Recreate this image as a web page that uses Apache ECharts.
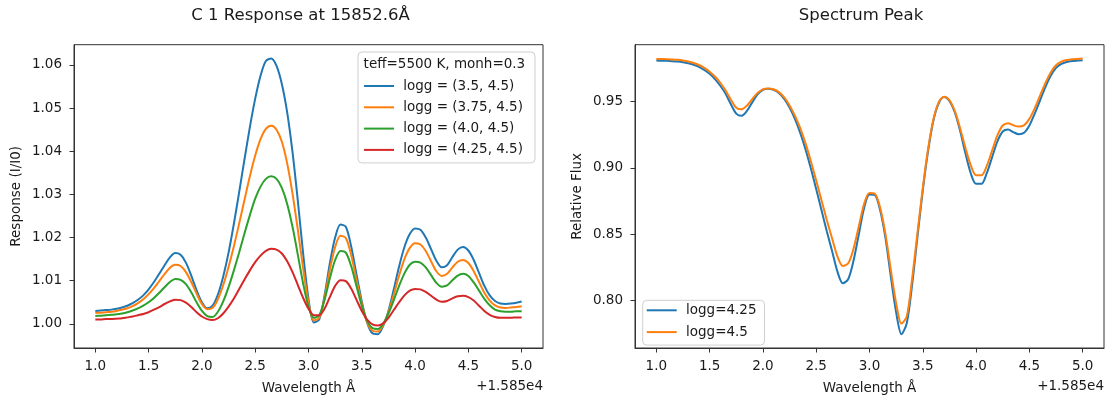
<!DOCTYPE html>
<html><head><meta charset="utf-8">
<script src="https://cdn.jsdelivr.net/npm/echarts@6/dist/echarts.min.js"></script>
<style>html,body{margin:0;padding:0;background:#fff}#c{width:1108px;height:400px}</style>
</head><body><div id="c"></div>
<script>
// Wavelength offsets (Å) relative to 1.585e4
const OFFSET_LABEL = '+1.585e4';
const X_TICKS = [1.0, 1.5, 2.0, 2.5, 3.0, 3.5, 4.0, 4.5, 5.0];
const RESP_Y_TICKS = [1.00, 1.01, 1.02, 1.03, 1.04, 1.05, 1.06];
const SPEC_Y_TICKS = [0.80, 0.85, 0.90, 0.95];

const RESP_TITLE = 'C 1 Response at 15852.6Å';
const SPEC_TITLE = 'Spectrum Peak';
const RESP_LEGEND_TITLE = 'teff=5500 K, monh=0.3';
const RESP_NAMES = ['logg = (3.5, 4.5)', 'logg = (3.75, 4.5)', 'logg = (4.0, 4.5)', 'logg = (4.25, 4.5)'];
const SPEC_NAMES = ['logg=4.25', 'logg=4.5'];

const WAVE = [1.00, 1.05, 1.10, 1.15, 1.20, 1.25, 1.30, 1.35, 1.40, 1.45,
  1.50, 1.55, 1.60, 1.65, 1.70, 1.75, 1.80, 1.85, 1.90, 1.95,
  2.00, 2.05, 2.10, 2.15, 2.20, 2.25, 2.30, 2.35, 2.40, 2.45,
  2.50, 2.55, 2.60, 2.65, 2.70, 2.75, 2.80, 2.85, 2.90, 2.95,
  3.00, 3.05, 3.10, 3.15, 3.20, 3.25, 3.30, 3.35, 3.40, 3.45,
  3.50, 3.55, 3.60, 3.65, 3.70, 3.75, 3.80, 3.85, 3.90, 3.95,
  4.00, 4.05, 4.10, 4.15, 4.20, 4.25, 4.30, 4.35, 4.40, 4.45,
  4.50, 4.55, 4.60, 4.65, 4.70, 4.75, 4.80, 4.85, 4.90, 4.95, 5.00];

const RESP_350 = [1.0030, 1.0031, 1.0032, 1.0033, 1.0035, 1.0038, 1.0042, 1.0048, 1.0056, 1.0066,
  1.0080, 1.0097, 1.0116, 1.0136, 1.0154, 1.0164, 1.0160, 1.0142, 1.0112, 1.0078,
  1.0050, 1.0036, 1.0042, 1.0068, 1.0110, 1.0165, 1.0232, 1.0306, 1.0382, 1.0456,
  1.0522, 1.0575, 1.0609, 1.0615, 1.0598, 1.0556, 1.0490, 1.0398, 1.0285, 1.0162,
  1.0058, 1.0003, 1.0010, 1.0065, 1.0140, 1.0200, 1.0230, 1.0225, 1.0180, 1.0115,
  1.0052, 1.0003, 0.9978, 0.9976, 0.9995, 1.0030, 1.0080, 1.0133, 1.0178, 1.0208,
  1.0221, 1.0218, 1.0200, 1.0173, 1.0146, 1.0131, 1.0136, 1.0155, 1.0172, 1.0178,
  1.0170, 1.0148, 1.0118, 1.0088, 1.0066, 1.0053, 1.0047, 1.0046, 1.0047, 1.0049, 1.0052];
const RESP_375 = [1.0025, 1.0026, 1.0027, 1.0028, 1.0030, 1.0033, 1.0036, 1.0041, 1.0048, 1.0057,
  1.0069, 1.0083, 1.0099, 1.0115, 1.0130, 1.0137, 1.0134, 1.0120, 1.0097, 1.0070,
  1.0046, 1.0034, 1.0037, 1.0057, 1.0090, 1.0132, 1.0180, 1.0233, 1.0288, 1.0342,
  1.0390, 1.0428, 1.0452, 1.0459, 1.0450, 1.0422, 1.0372, 1.0302, 1.0218, 1.0128,
  1.0050, 1.0008, 1.0014, 1.0060, 1.0125, 1.0178, 1.0204, 1.0199, 1.0160, 1.0102,
  1.0047, 1.0004, 0.9984, 0.9982, 0.9997, 1.0027, 1.0068, 1.0112, 1.0150, 1.0176,
  1.0187, 1.0184, 1.0169, 1.0145, 1.0122, 1.0111, 1.0116, 1.0131, 1.0144, 1.0148,
  1.0141, 1.0122, 1.0097, 1.0072, 1.0054, 1.0043, 1.0038, 1.0037, 1.0038, 1.0039, 1.0041];
const RESP_400 = [1.0018, 1.0019, 1.0020, 1.0021, 1.0022, 1.0024, 1.0027, 1.0031, 1.0036, 1.0042,
  1.0050, 1.0060, 1.0072, 1.0085, 1.0097, 1.0104, 1.0102, 1.0092, 1.0073, 1.0050,
  1.0030, 1.0018, 1.0016, 1.0028, 1.0052, 1.0085, 1.0124, 1.0166, 1.0210, 1.0252,
  1.0290, 1.0318, 1.0336, 1.0342, 1.0336, 1.0315, 1.0278, 1.0225, 1.0160, 1.0093,
  1.0040, 1.0014, 1.0020, 1.0055, 1.0105, 1.0148, 1.0169, 1.0165, 1.0134, 1.0088,
  1.0042, 1.0007, 0.9990, 0.9988, 1.0000, 1.0024, 1.0055, 1.0088, 1.0117, 1.0137,
  1.0144, 1.0142, 1.0131, 1.0113, 1.0095, 1.0086, 1.0089, 1.0101, 1.0112, 1.0116,
  1.0111, 1.0096, 1.0077, 1.0058, 1.0043, 1.0033, 1.0029, 1.0028, 1.0028, 1.0029, 1.0029];
const RESP_425 = [1.0010, 1.0010, 1.0011, 1.0011, 1.0012, 1.0013, 1.0015, 1.0017, 1.0020, 1.0023,
  1.0027, 1.0033, 1.0039, 1.0046, 1.0052, 1.0056, 1.0055, 1.0049, 1.0039, 1.0027,
  1.0017, 1.0011, 1.0009, 1.0013, 1.0024, 1.0040, 1.0059, 1.0081, 1.0103, 1.0124,
  1.0143, 1.0158, 1.0169, 1.0174, 1.0172, 1.0163, 1.0145, 1.0120, 1.0090, 1.0060,
  1.0035, 1.0020, 1.0020, 1.0035, 1.0062, 1.0088, 1.0101, 1.0099, 1.0082, 1.0056,
  1.0030, 1.0010, 0.9999, 0.9996, 1.0001, 1.0014, 1.0032, 1.0050, 1.0066, 1.0077,
  1.0081, 1.0080, 1.0074, 1.0065, 1.0056, 1.0051, 1.0053, 1.0059, 1.0064, 1.0065,
  1.0062, 1.0054, 1.0042, 1.0030, 1.0021, 1.0016, 1.0014, 1.0014, 1.0014, 1.0015, 1.0015];

const SPEC_425 = [0.9810, 0.9809, 0.9808, 0.9806, 0.9803, 0.9798, 0.9790, 0.9779, 0.9763, 0.9740,
  0.9710, 0.9670, 0.9620, 0.9560, 0.9480, 0.9410, 0.9393, 0.9430, 0.9495, 0.9555,
  0.9590, 0.9598, 0.9590, 0.9565, 0.9520, 0.9455, 0.9370, 0.9265, 0.9140, 0.8995,
  0.8840, 0.8680, 0.8520, 0.8370, 0.8215, 0.8130, 0.8160, 0.8300, 0.8500, 0.8700,
  0.8800, 0.8795, 0.8680, 0.8470, 0.8180, 0.7910, 0.7745, 0.7830, 0.8120, 0.8480,
  0.8830, 0.9130, 0.9360, 0.9490, 0.9535, 0.9505, 0.9420, 0.9280, 0.9110, 0.8960,
  0.8880, 0.8880, 0.8960, 0.9080, 0.9200, 0.9275, 0.9290, 0.9270, 0.9255, 0.9265,
  0.9320, 0.9410, 0.9510, 0.9610, 0.9695, 0.9755, 0.9785, 0.9800, 0.9807, 0.9810, 0.9812];
const SPEC_450 = [0.9823, 0.9822, 0.9821, 0.9819, 0.9816, 0.9811, 0.9803, 0.9792, 0.9777, 0.9755,
  0.9726, 0.9690, 0.9643, 0.9585, 0.9515, 0.9455, 0.9443, 0.9470, 0.9520, 0.9565,
  0.9593, 0.9600, 0.9594, 0.9572, 0.9532, 0.9472, 0.9395, 0.9300, 0.9185, 0.9050,
  0.8905, 0.8755, 0.8605, 0.8465, 0.8330, 0.8260, 0.8280, 0.8390, 0.8560, 0.8730,
  0.8810, 0.8805, 0.8700, 0.8500, 0.8230, 0.7980, 0.7825, 0.7880, 0.8165, 0.8510,
  0.8850, 0.9145, 0.9368, 0.9497, 0.9538, 0.9512, 0.9430, 0.9300, 0.9150, 0.9020,
  0.8945, 0.8945, 0.9015, 0.9130, 0.9245, 0.9320, 0.9337, 0.9322, 0.9312, 0.9322,
  0.9370, 0.9450, 0.9545, 0.9640, 0.9720, 0.9775, 0.9802, 0.9814, 0.9820, 0.9823, 0.9826];

const COLORS = ['#1f77b4', '#ff7f0e', '#2ca02c', '#d62728'];
const FONT = 'DejaVu Sans';
const TXT = '#1a1a1a';
const FS = 13.5;

function pairs(xs, ys) { return xs.map((x, i) => [x, ys[i]]); }
function padRange(arrs) {
  const all = [].concat(...arrs);
  const lo = Math.min(...all), hi = Math.max(...all), m = (hi - lo) * 0.05;
  return [lo - m, hi + m];
}
const respR = padRange([RESP_350, RESP_375, RESP_400, RESP_425]);
const specR = padRange([SPEC_425, SPEC_450]);

function xAxis(gi) {
  return {
    type: 'value', gridIndex: gi, min: 0.8, max: 5.2,
    axisLine: { show: true, lineStyle: { color: '#333', width: 1 } },
    axisTick: { show: true, length: 4.5, lineStyle: { color: '#333' }, customValues: X_TICKS },
    axisLabel: { customValues: X_TICKS, formatter: v => Number(v).toFixed(1), fontSize: FS, fontFamily: FONT, color: TXT, margin: 11 },
    splitLine: { show: false },
    name: 'Wavelength Å', nameLocation: 'middle', nameGap: 33,
    nameTextStyle: { fontSize: FS, fontFamily: FONT, color: TXT }
  };
}
function yAxis(gi, r, ticks, name) {
  return {
    type: 'value', gridIndex: gi, min: r[0], max: r[1],
    axisLine: { show: true, lineStyle: { color: '#333', width: 1 } },
    axisTick: { show: true, length: 4.5, lineStyle: { color: '#333' }, customValues: ticks },
    axisLabel: { customValues: ticks, formatter: v => Number(v).toFixed(2), fontSize: FS, fontFamily: FONT, color: TXT, margin: 12 },
    splitLine: { show: false },
    name: name, nameLocation: 'middle', nameGap: 51,
    nameTextStyle: { fontSize: FS, fontFamily: FONT, color: TXT }
  };
}
function line(name, gi, xs, ys, color) {
  return {
    type: 'line', name: name, xAxisIndex: gi, yAxisIndex: gi,
    data: pairs(xs, ys), symbol: 'none', showSymbol: false, smooth: 0.3,
    lineStyle: { color: color, width: 2 }, itemStyle: { color: color }
  };
}
const legendCommon = {
  orient: 'vertical', icon: 'rect', itemWidth: 30, itemHeight: 2,
  backgroundColor: 'rgba(255,255,255,0.8)', borderColor: '#cfcfcf', borderWidth: 1, borderRadius: 4,
  textStyle: { fontSize: FS, fontFamily: FONT, color: TXT, lineHeight: 14 },
  formatter: n => ' ' + n, selectedMode: false
};

const option = {
  animation: false,
  backgroundColor: '#fff',
  grid: [
    { left: 74, top: 44.7, width: 469, height: 307, show: true, borderColor: '#333', borderWidth: 1, backgroundColor: 'transparent' },
    { left: 635, top: 44.7, width: 469, height: 307, show: true, borderColor: '#333', borderWidth: 1, backgroundColor: 'transparent' }
  ],
  xAxis: [xAxis(0), xAxis(1)],
  yAxis: [yAxis(0, respR, RESP_Y_TICKS, 'Response (I/I0)'), yAxis(1, specR, SPEC_Y_TICKS, 'Relative Flux')],
  legend: [
    Object.assign({}, legendCommon, { data: RESP_NAMES, left: 358, top: 52, itemGap: 7.3, padding: [27, 12, 6, 6] }),
    Object.assign({}, legendCommon, { data: SPEC_NAMES, left: 642.7, top: 300.3, itemGap: 7.8, padding: [3, 8, 6, 4] })
  ],
  series: [
    line(RESP_NAMES[0], 0, WAVE, RESP_350, COLORS[0]),
    line(RESP_NAMES[1], 0, WAVE, RESP_375, COLORS[1]),
    line(RESP_NAMES[2], 0, WAVE, RESP_400, COLORS[2]),
    line(RESP_NAMES[3], 0, WAVE, RESP_425, COLORS[3]),
    line(SPEC_NAMES[0], 1, WAVE, SPEC_425, COLORS[0]),
    line(SPEC_NAMES[1], 1, WAVE, SPEC_450, COLORS[1])
  ],
  graphic: [
    { type: 'text', x: 300.5, y: 16, z: 100, style: { text: RESP_TITLE, fontSize: 16.5, fontFamily: FONT, fill: TXT, textAlign: 'center', textVerticalAlign: 'middle' } },
    { type: 'text', x: 861, y: 16, z: 100, style: { text: SPEC_TITLE, fontSize: 16.5, fontFamily: FONT, fill: TXT, textAlign: 'center', textVerticalAlign: 'middle' } },
    { type: 'text', x: 543, y: 386, z: 100, style: { text: OFFSET_LABEL, fontSize: FS, fontFamily: FONT, fill: TXT, textAlign: 'right', textVerticalAlign: 'middle' } },
    { type: 'text', x: 1104, y: 386, z: 100, style: { text: OFFSET_LABEL, fontSize: FS, fontFamily: FONT, fill: TXT, textAlign: 'right', textVerticalAlign: 'middle' } },
    { type: 'text', x: 363.6, y: 64, z: 100, style: { text: RESP_LEGEND_TITLE, fontSize: FS, fontFamily: FONT, fill: TXT, textAlign: 'left', textVerticalAlign: 'middle' } }
  ]
};
const chart = echarts.init(document.getElementById('c'), null, { renderer: 'canvas' });
chart.setOption(option);
</script>
</body></html>
